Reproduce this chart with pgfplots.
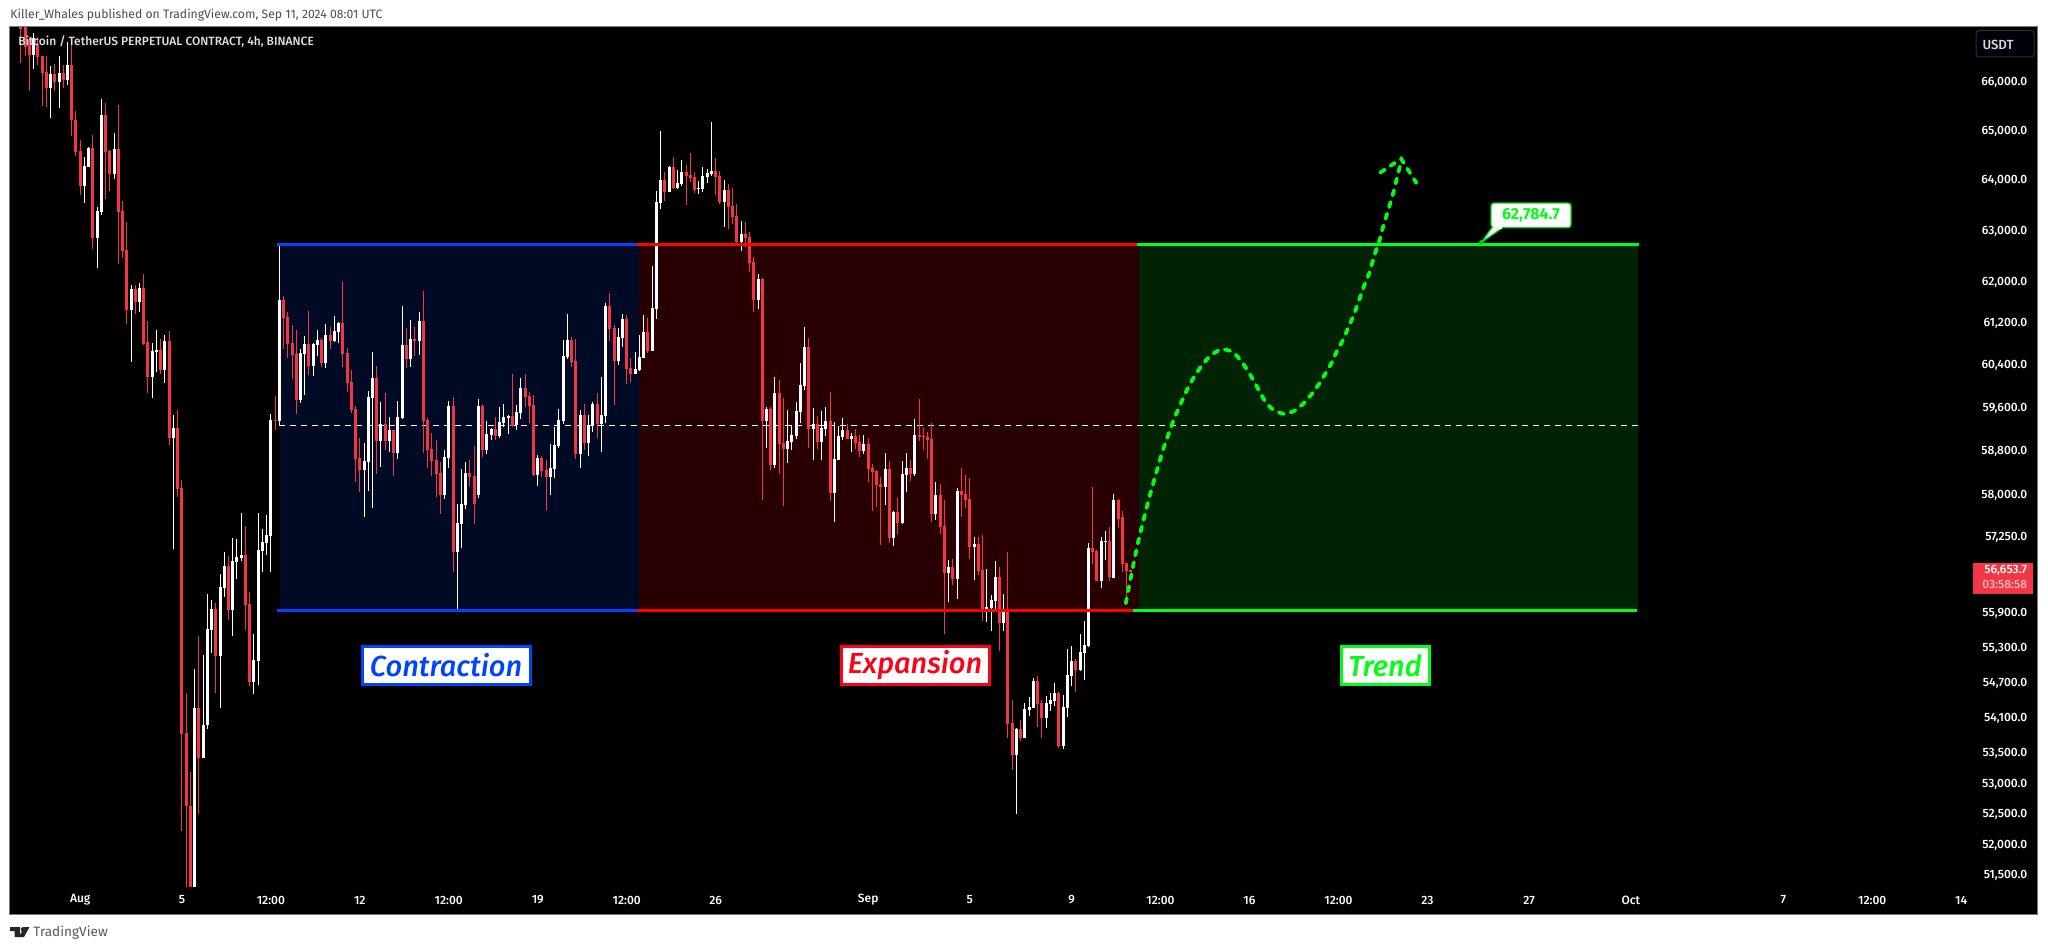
\documentclass[border=0pt]{standalone}
\usepackage{fontspec}
\setmainfont{Fira Sans}
\newfontfamily\medf[ItalicFont={Fira Sans Medium Italic}]{Fira Sans Medium}
\usepackage{pgfplots}
\usepackage{pgfplotstable}
\pgfplotsset{compat=1.18}
\definecolor{cup}{HTML}{FFFFFF}
\definecolor{cdn}{HTML}{F23645}
\definecolor{lblue}{HTML}{0044FF}
\definecolor{lred}{HTML}{FF0018}
\definecolor{lgreen}{HTML}{00FF12}
\definecolor{zblue}{RGB}{0,10,36}
\definecolor{zred}{RGB}{40,0,4}
\definecolor{zgreen}{RGB}{0,36,3}
\definecolor{frame}{HTML}{787B86}
\newcommand\ytrafo[1]{\begingroup\pgfkeys{/pgf/fpu=true,/pgf/fpu/output format=fixed}\pgfmathparse{1000*ln(#1)}\xdef\ytres{\pgfmathresult}\endgroup\let\pgfmathresult\ytres}
\pgfplotstableread{
i o h l c
-14 67140 67140 66390 67100
-13 67140 67140 66540 66730
-12 66870 66940 65820 66560
-10 66770 66940 66350 66520
-9 66540 66540 65510 66190
-8 66210 66530 65490 65880
-6 66170 66370 65820 66000
-4 66190 66350 65890 66040
-2 66350 66840 64900 65210
-1 65220 65400 64500 64580
0 64590 64820 63710 63890
3 64650 64920 62640 62860
6 65320 65570 63630 64570
7 64590 64620 63800 64130
9 64630 65530 62350 63370
10 63390 63590 62470 62600
11 62620 63180 61190 61460
13 61870 61940 61380 61610
15 61890 62160 60790 60820
16 60850 61250 59890 60190
19 60700 60910 60250 60320
21 60870 61060 58920 59050
23 59240 59570 57980 58120
24 58140 58280 52220 53830
25 53850 54530 51320 52630
26 52640 53200 51320 51320
28 54270 55510 52510 53430
32 55980 56080 54530 55160
35 56740 56910 55790 55960
39 56930 57450 55610 56050
40 56070 56280 54650 54720
46 59390 59830 59200 59370
48 61650 61730 60720 61310
49 61330 61420 60550 60810
50 60830 61170 60150 60600
51 60620 61080 59500 59760
54 60810 61440 60230 60400
57 60890 60930 60380 60450
59 60980 61140 60720 60870
62 61210 62000 60380 60620
63 60640 60740 59910 60080
64 60100 60320 59510 59570
65 59590 59640 58250 58670
66 58680 59050 58060 58470
70 60170 60400 58390 59000
72 59310 59890 58830 59000
74 59200 59210 58360 58770
77 60790 61120 60360 60530
79 60910 61140 60590 60870
81 61250 61830 58770 59370
82 59390 59420 58500 58830
83 58850 59140 58360 58630
84 58650 59020 57970 58390
85 58410 58610 57670 58010
88 59640 59810 56630 56980
92 58410 58650 58170 58340
93 58360 58900 57490 57850
95 59640 59660 58700 58830
98 59220 59440 59020 59090
102 59460 60250 59260 59270
105 59980 60250 59620 59810
106 59830 59910 59330 59640
107 59660 59850 58360 58380
109 58680 58720 58340 58450
110 58470 58650 57740 58340
116 60890 60950 60380 60470
117 60490 60910 58670 58760
119 59480 59680 58830 58960
122 59680 59890 59050 59310
125 61540 61790 60870 61100
126 61120 61170 59660 60490
129 61290 61360 60060 60340
130 60360 60550 60100 60250
134 61040 61310 60640 60680
138 64010 64170 63590 63770
140 64270 64470 63830 63850
143 64170 64310 63510 64090
144 64110 64550 63970 64050
145 64070 64170 63750 63810
150 64190 64450 63710 64070
151 64090 64190 63530 63570
153 63810 63930 63040 63470
154 63490 63850 63140 63270
155 63290 63530 62740 62780
157 62940 63180 62680 62860
158 62880 62980 62200 62370
159 62390 62490 61420 61650
161 62060 62080 57920 59370
163 59590 59620 58470 58560
165 59890 60130 58390 58940
166 58960 59790 57810 58850
172 60760 60930 58870 59220
174 59310 59460 58850 58980
177 59370 59910 57900 58050
181 59200 59310 59030 59030
183 59090 59220 58850 58960
184 58980 59110 58700 58810
186 58940 59050 58250 58480
187 58500 58570 57720 58430
188 58450 58470 57790 58190
189 58210 58340 57110 58150
191 58480 58630 57150 57240
193 57700 57950 57310 57500
196 58500 58650 58260 58390
198 59110 59770 59000 59070
199 59090 59240 58830 59070
200 59070 59160 58670 59020
201 59030 59330 57520 57670
203 58010 58210 57310 57430
204 57450 57920 55540 56610
206 56720 56860 56400 56510
208 58080 58500 57610 58010
209 58030 58380 57770 57920
210 57940 58320 56860 57070
212 57130 57250 56580 56650
213 56670 57290 55770 55930
217 56540 56720 55250 55740
219 55960 56980 53770 54000
220 54020 54410 53230 53480
222 53920 54070 53720 53770
226 54730 54820 53950 54340
227 54360 54410 53770 54100
231 54530 54540 53600 53630
235 55080 55110 54550 54920
239 57060 58150 56770 56980
240 57000 57020 56470 56470
243 57180 57430 56470 56540
245 57920 57940 57420 57580
246 57610 57720 56630 56770
247 56790 56790 56140 56650
248 56670 56670 56630 56630
}\tblred
\pgfplotstableread{
i o h l c
-11 66560 67020 66280 66910
-7 65880 66320 65270 66170
-5 66000 66550 65470 66190
-3 66040 66830 65940 66350
1 63890 64470 63560 64290
2 64270 64670 64270 64650
4 62860 63470 62270 63390
5 63370 65650 63320 65320
8 64130 64960 64030 64630
12 61460 61940 60470 61870
14 61610 61980 61420 61890
17 60190 60830 59790 60680
18 60660 61080 60280 60700
20 60320 60980 60080 60870
22 59050 59480 57040 59240
27 51320 54940 51320 54270
29 53430 55180 53430 53990
30 53990 56240 53920 55630
31 55610 56140 55220 55980
33 55160 56600 54270 56370
34 56350 56980 56190 56740
36 55960 57240 55510 56830
37 56810 57220 56510 56900
38 56880 57680 56830 56930
41 54720 55550 54510 55090
42 55080 57680 54660 57020
43 57000 57400 56630 57160
44 57140 57650 56930 57290
45 57270 59500 56630 59390
47 59370 62730 59290 61650
52 59760 60720 59700 60640
53 60620 60960 59850 60810
55 60400 60830 60210 60810
56 60790 61080 60590 60890
58 60450 61190 60360 60980
60 60870 61350 60850 61060
61 61040 61230 60830 61210
67 58470 58960 57610 58630
68 58610 59930 58080 59810
69 59790 60660 57770 60170
71 59000 59720 58520 59310
73 59000 59440 58790 59200
75 58770 59740 58670 59440
76 59420 61540 59400 60790
78 60530 61270 60380 60910
80 60870 61420 60600 61250
86 58010 58830 57940 58700
87 58680 59740 58500 59640
89 56980 57850 55960 57500
90 57490 58480 57060 57850
91 57830 58610 57760 58410
94 58010 59770 57950 59640
96 58830 59370 58760 59130
97 59110 59240 59020 59220
99 59090 59620 59050 59350
100 59330 59680 59260 59440
101 59420 59480 59130 59460
103 59290 59660 59200 59530
104 59510 60170 59400 59980
108 58380 58740 58170 58680
111 58340 58940 58010 58500
112 58480 59260 58320 58920
113 58900 59590 58870 59390
114 59370 60890 59310 60590
115 60570 61380 60530 60890
118 58760 59570 58500 59480
120 58960 59480 58720 59290
121 59270 59720 59160 59680
123 59310 60190 58790 59480
124 59460 61600 59330 61540
127 60490 61120 60420 60950
128 60930 61380 60760 61290
131 60250 60660 60250 60340
132 60320 60980 60300 60570
133 60550 61360 60550 61040
135 60680 62310 60680 61500
136 61480 63790 61290 63570
137 63550 65000 63430 64010
139 63770 64290 63770 64270
141 63850 64210 63830 63950
142 63930 64410 63890 64170
146 63830 63990 63730 63850
147 63830 64270 63770 64090
148 64070 64230 63950 64150
149 64130 65180 64090 64190
152 63570 64010 63080 63810
156 62780 63200 62600 62940
160 61650 62160 61480 62060
162 59370 59620 58870 59590
164 58560 60190 58500 59890
167 58850 59570 58590 59000
168 58980 59290 58830 59110
169 59090 59720 59030 59550
170 59530 60450 59330 60040
171 60020 61140 59950 60760
173 59220 59610 58650 59310
175 58980 59550 58650 59240
176 59220 59620 59090 59370
178 58050 59350 57520 58670
179 58650 59270 58650 59090
180 59070 59420 59020 59200
182 59030 59140 58790 59090
185 58810 59110 58760 58940
190 58150 58770 57830 58480
192 57240 57720 57090 57700
194 57500 58630 57490 58390
195 58380 58770 58060 58500
197 58390 59400 58360 59110
202 57670 58250 57560 58010
205 56610 56840 56100 56720
207 56510 58140 56150 58080
211 57070 57250 56490 57130
214 55930 56680 55750 56010
215 56000 56220 55600 56140
216 56120 56830 55940 56540
218 55740 56240 55600 55960
221 53480 53940 52510 53920
223 53770 54360 53770 54260
224 54240 54460 54140 54290
225 54270 54790 54270 54730
228 54100 54480 53940 54360
229 54340 54530 54220 54410
230 54390 54700 54310 54530
232 53630 54490 53580 54290
233 54270 55280 54120 54840
234 54820 55330 54650 55080
236 54920 55540 54900 55230
237 55210 55770 54750 55350
238 55330 57150 55320 57060
241 56470 57250 56350 57180
242 57160 57360 56840 57180
244 56520 58030 56520 57920
}\tblwhite
\newcommand\drawcandles[2]{%
  \pgfplotstablegetrowsof{#1}%
  \pgfmathtruncatemacro\lastrow{\pgfplotsretval-1}%
  \pgfplotsforeachungrouped \rr in {0,...,\lastrow}{%
    \pgfplotstablegetelem{\rr}{i}\of{#1}\let\ci\pgfplotsretval
    \pgfplotstablegetelem{\rr}{o}\of{#1}\let\co\pgfplotsretval
    \pgfplotstablegetelem{\rr}{h}\of{#1}\let\ch\pgfplotsretval
    \pgfplotstablegetelem{\rr}{l}\of{#1}\let\cl\pgfplotsretval
    \pgfplotstablegetelem{\rr}{c}\of{#1}\let\cc\pgfplotsretval
    \edef\doit{\noexpand\addplot[#2,line width=0.5pt,forget plot] coordinates {(\ci,\cl)(\ci,\ch)};
      \noexpand\addplot[#2,line width=1.5pt,forget plot] coordinates {(\ci,\co)(\ci,\cc)};}%
    \doit
  }%
}
\begin{document}
\begin{tikzpicture}
\path[use as bounding box,fill=white] (0,0) rectangle (1024pt,475pt);
\begin{axis}[
  at={(5pt,18pt)},anchor=south west,scale only axis,
  width=1013.5pt,height=443.5pt,
  y coord trafo/.code={\ytrafo{#1}},
  xmin=-16.57,xmax=461.9,ymin=50889,ymax=67144,
  axis background/.style={fill=black},
  axis line style={color=frame,line width=0.5pt},
  tick style={draw=none},major tick length=0pt,
  yminorticks=false,xminorticks=false,
  ytick pos=right,yticklabel pos=right,
  xtick pos=bottom,
  xtick={0,24,45,66,87,108,129,150,186,210,234,255,276,297,318,342,366,402,423,444},
  xticklabels={Aug,5,12:00,12,12:00,19,12:00,26,Sep,5,9,12:00,16,12:00,23,27,Oct,7,12:00,14},
  ytick={66000,65000,64000,63000,62000,61200,60400,59600,58800,58000,57250,55900,55300,54700,54100,53500,53000,52500,52000,51500},
  yticklabels={{66,000.0},{65,000.0},{64,000.0},{63,000.0},{62,000.0},{61,200.0},{60,400.0},{59,600.0},{58,800.0},{58,000.0},{57,250.0},{55,900.0},{55,300.0},{54,700.0},{54,100.0},{53,500.0},{53,000.0},{52,500.0},{52,000.0},{51,500.0}},
  yticklabel style={anchor=east,inner sep=0pt,xshift=-4.7pt,text=white,font=\medf\fontsize{6}{7}\selectfont},
  xticklabel style={anchor=center,inner sep=0pt,yshift=7pt,text=white,font=\medf\fontsize{6}{7}\selectfont},
]
% zones
\addplot[fill=zblue,draw=none,forget plot] coordinates {(47.17,55956)(132,55956)(132,62734)(47.17,62734)};
\addplot[fill=zred,draw=none,forget plot] coordinates {(132,55956)(250,55956)(250,62734)(132,62734)};
\addplot[fill=zgreen,draw=none,forget plot] coordinates {(250,55956)(367.7,55956)(367.7,62734)(250,62734)};
% mid line
\addplot[white,line width=0.5pt,dash pattern=on 2.7pt off 2.8pt,forget plot] coordinates {(47,59286)(367.7,59286)};
% candles
\drawcandles{\tblred}{cdn}
\drawcandles{\tblwhite}{cup}
% range lines
\addplot[lblue,line width=1.5pt,forget plot] coordinates {(46.5,62734)(131.4,62734)};
\addplot[lblue,line width=1.5pt,forget plot] coordinates {(46.5,55956)(131.4,55956)};
\addplot[red,line width=1.5pt,forget plot] coordinates {(131.4,62734)(249.5,62734)};
\addplot[red,line width=1.5pt,forget plot] coordinates {(131.4,55956)(248.5,55956)};
\addplot[lgreen,line width=1.5pt,forget plot] coordinates {(249.5,62734)(368,62734)};
\addplot[lgreen,line width=1.5pt,forget plot] coordinates {(248.5,55956)(367.5,55956)};
% projected path
\addplot[lgreen,line width=1.9pt,line cap=round,dash pattern=on 2.6pt off 3.5pt,smooth,tension=0.4,forget plot] coordinates {
(246.8,56080)(247.9,56500)(249.0,56910)(250.0,57260)(251.0,57560)(251.7,57770)(252.4,57980)(253.1,58170)
(253.9,58390)(254.7,58600)(255.5,58810)(256.4,59020)(257.3,59210)(258.3,59430)(259.5,59640)(260.6,59840)
(261.9,60050)(263.3,60240)(265.0,60430)(266.9,60600)(269.4,60710)(271.8,60670)(273.8,60520)(275.4,60330)
(276.9,60130)(278.3,59930)(279.8,59720)(281.7,59570)(284.3,59500)(286.9,59570)(289.1,59720)(290.9,59890)
(292.5,60070)(294.0,60260)(295.4,60460)(296.6,60670)(298.0,60880)(299.1,61080)(300.2,61290)(301.2,61500)
(302.2,61730)(303.1,61940)(304.2,62160)(305.0,62380)(305.8,62600)(306.8,62840)(307.5,63070)(308.3,63290)
(309.1,63510)(309.9,63740)(310.6,63980)(311.3,64220)(311.8,64400)};
\addplot[lgreen,line width=1.9pt,line cap=round,dash pattern=on 2.6pt off 3.5pt,forget plot] coordinates {(306.9,64160)(311.8,64440)(315.4,63950)};
\end{axis}
\begin{scope}[x=0.5pt,y=-0.5pt,yshift=475pt]
\node[anchor=west,inner sep=0pt,text=black!70,font=\fontsize{6.1}{7}\selectfont] at (10,15) {Killer\_Whales published on TradingView.com, Sep 11, 2024 08:01 UTC};
\node[anchor=west,inner sep=0pt,text=white!88!black,font=\medf\fontsize{6}{7}\selectfont] at (18,41.5) {Bitcoin / TetherUS PERPETUAL CONTRACT, 4h, BINANCE};
% boxes
\draw[lblue,line width=1.5pt,fill=white] (362,646.5) rectangle (530,684.5);
\node[text=lblue,font=\fontsize{14.5}{16}\selectfont\medf\itshape] at (446,665.5) {Contraction};
\draw[lred,line width=1.5pt,fill=white] (841,646.5) rectangle (989,684.5);
\node[text=lred,font=\fontsize{14.5}{16}\selectfont\medf\itshape] at (915,665.5) {Expansion};
\draw[lgreen,line width=1.5pt,fill=white] (1341,646.5) rectangle (1429.5,684.5);
\node[text=lgreen,font=\fontsize{14.5}{16}\selectfont\medf\itshape] at (1385,665.5) {Trend};
% callout
\draw[lgreen!85!black,line width=0.6pt,fill=white] (1481.4,242.3) -- (1492,227.5) -- (1503,227.5) -- cycle;
\draw[lgreen!85!black,line width=0.7pt,fill=white,rounded corners=1.5pt] (1491,203) rectangle (1571,227.7);
\fill[white] (1493,226) rectangle (1502,229);
\draw[lgreen!85!black,line width=0.5pt,fill=lgreen!60!black] (1481.4,242.3) circle (1.8);
\node[text=lgreen,font=\fontsize{8}{9}\selectfont\bfseries] at (1531,215.5) {62,784.7};
% USDT
\draw[fill=black!10!blue!5!black,draw=white!18!black,line width=0.5pt,rounded corners=1.5pt] (1976,30.7) rectangle (2034,57);
\node[text=white!85!black,font=\medf\fontsize{6.6}{7}\selectfont] at (1998,44.5) {USDT};
% price tag
\fill[cdn] (1973,563) rectangle (2032.7,594);
\node[anchor=east,inner sep=0pt,text=white,font=\medf\fontsize{6}{7}\selectfont] at (2027.5,570.7) {56,653.7};
\node[anchor=east,inner sep=0pt,text=white!65!cdn,font=\medf\fontsize{6}{7}\selectfont] at (2027.5,584.3) {03:58:58};
% logo
\fill[black!85] (10,927) -- (20,927) -- (20,937) -- (14.5,937) -- (14.5,931) -- (10,931) -- cycle;
\fill[black!85] (23,929.3) circle (2.2);
\fill[black!85] (24.5,927) -- (29.5,927) -- (24,937) -- (18.8,937) -- cycle;
\node[anchor=west,inner sep=0pt,text=black!65,font=\fontsize{6.8}{8}\selectfont] at (33,933) {TradingView};
\end{scope}
\end{tikzpicture}
\end{document}
